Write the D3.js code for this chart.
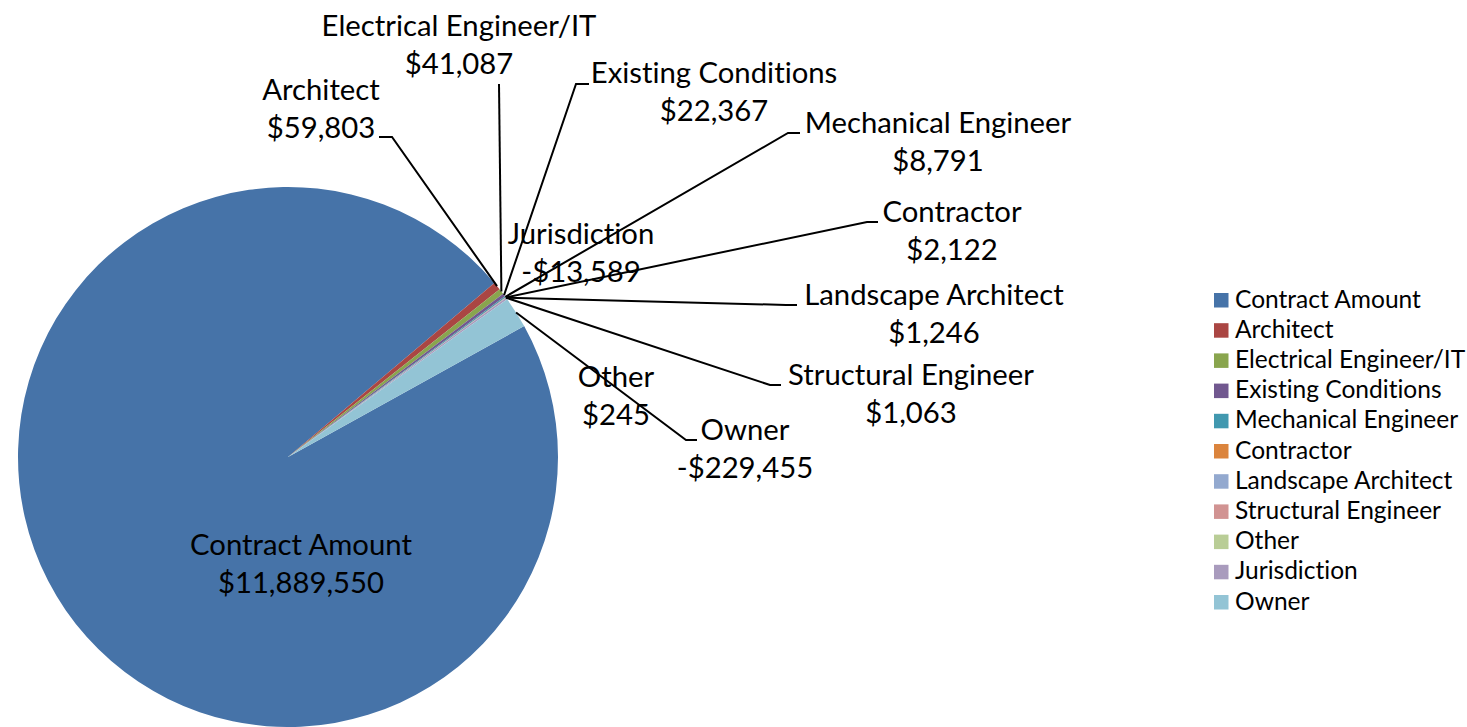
<!DOCTYPE html>
<html>
<head>
<meta charset="utf-8">
<script src="https://cdn.jsdelivr.net/npm/d3@7"></script>
<style>
  html, body { margin: 0; padding: 0; background: #fff; }
  svg { display: block; }
  text { font-family: Lato, "Open Sans", sans-serif; fill: #000; font-variant-ligatures: none; font-feature-settings: "liga" 0, "clig" 0; }
</style>
</head>
<body>
<svg id="chart" width="1467" height="727"></svg>
<script>
// ---- data ----
const categories = ["Contract Amount", "Architect", "Electrical Engineer/IT", "Existing Conditions",
  "Mechanical Engineer", "Contractor", "Landscape Architect", "Structural Engineer",
  "Other", "Jurisdiction", "Owner"];
const values = [11889550, 59803, 41087, 22367, 8791, 2122, 1246, 1063, 245, -13589, -229455];
const colors = ["#4673A8", "#AA4643", "#89A54E", "#71588F", "#4198AF", "#DB843D",
  "#93A9CF", "#D19392", "#B9CD96", "#A99BBD", "#93C4D5"];

// ---- layout (label anchor positions: center x, first baseline) ----
const labelPos = [[301, 555], [321, 100], [459, 36], [714, 83], [938, 133], [952, 222],
  [934, 305], [911, 385], [616, 387], [581, 244], [745, 440]];
// leader line path points after the slice midpoint (null = no leader)
const leaderPts = [null, [[392, 137], [379, 137]], [[499, 84]], [[576, 84], [589, 84]],
  [[788, 133], [800, 133]], [[867, 222], [878, 222]], [[786, 305], [797, 305]],
  [[770, 385], [781, 385]], null, null, [[686, 440], [697, 440]]];

const svg = d3.select("#chart");
const cx = 288, cy = 457, R = 270;
const startDeg = 61;

// measure font to match Calibri widths
const probe = svg.append("text").attr("font-size", 100).text("Contract Amount");
const w100 = probe.node().getComputedTextLength();
probe.remove();
const labelSize = 100 * 222 / w100;
const legendSize = 100 * 186 / w100;
const lineGap = 37.5;

const data = categories.map((c, i) => ({ name: c, value: values[i], i }));
const pie = d3.pie().sort(null).value(d => Math.abs(d.value))
  .startAngle(startDeg * Math.PI / 180).endAngle(startDeg * Math.PI / 180 + 2 * Math.PI);
const arcs = pie(data);
const arc = d3.arc().innerRadius(0).outerRadius(R);

const g = svg.append("g").attr("transform", `translate(${cx},${cy})`);
g.selectAll("path.slice").data(arcs).join("path")
  .attr("class", "slice")
  .attr("d", arc)
  .attr("fill", d => colors[d.data.i]);

// leader lines
const fmt = v => (v < 0 ? "-$" : "$") + d3.format(",")(Math.abs(v));
const line = d3.line();
arcs.forEach(a => {
  const pts = leaderPts[a.data.i];
  if (!pts) return;
  const ang = (a.startAngle + a.endAngle) / 2;
  const start = [cx + R * Math.sin(ang), cy - R * Math.cos(ang)];
  svg.append("path")
    .attr("d", line([start, ...pts]))
    .attr("fill", "none")
    .attr("stroke", "#000")
    .attr("stroke-width", 2);
});

// labels
arcs.forEach(a => {
  const [x, y] = labelPos[a.data.i];
  const t = svg.append("text")
    .attr("text-anchor", "middle")
    .attr("font-size", labelSize);
  t.append("tspan").attr("x", x).attr("y", y).text(a.data.name);
  t.append("tspan").attr("x", x).attr("y", y + lineGap).text(fmt(a.data.value));
});

// legend
const legend = svg.append("g").attr("transform", "translate(1214,0)");
const rowY = d3.scaleLinear().domain([0, 10]).range([307.5, 609.5]);
categories.forEach((c, i) => {
  legend.append("rect")
    .attr("x", 0).attr("y", rowY(i) - 14.5)
    .attr("width", 14.5).attr("height", 14.5)
    .attr("fill", colors[i]);
  legend.append("text")
    .attr("x", 21).attr("y", rowY(i))
    .attr("font-size", legendSize)
    .text(c);
});
</script>
</body>
</html>
